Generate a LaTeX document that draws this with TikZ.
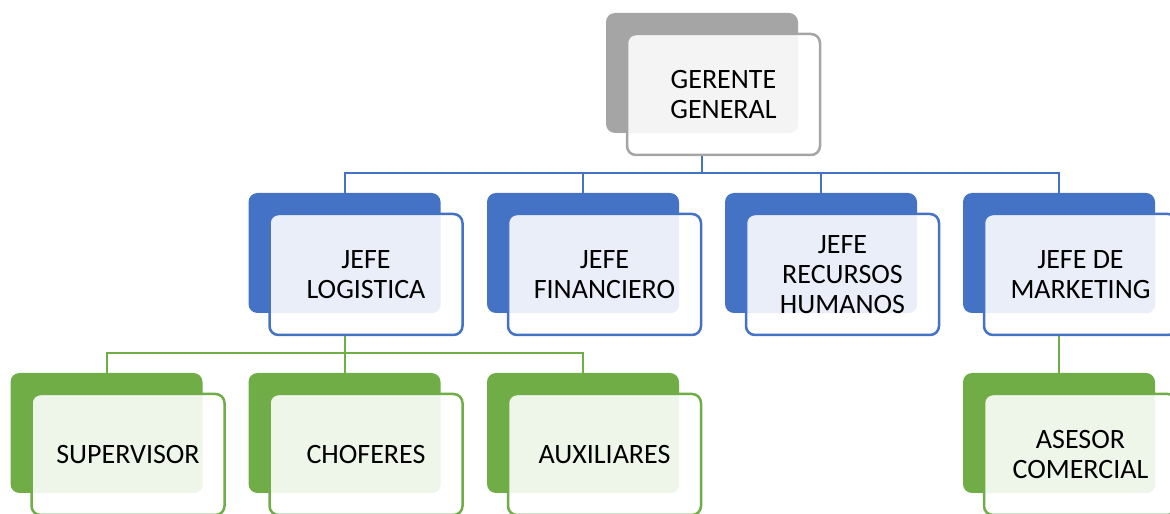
\documentclass[tikz,border=0pt]{standalone}
\usepackage{fontspec}
\setmainfont{Carlito}
\definecolor{gris}{HTML}{A5A5A5}
\definecolor{azul}{HTML}{4472C4}
\definecolor{verde}{HTML}{70AD47}
\begin{document}
\begin{tikzpicture}[x=1pt,y=1pt,
  fondo/.style={rectangle, rounded corners=9pt, minimum width=192pt, minimum height=120pt, inner sep=0pt},
  frente/.style 2 args={rectangle, rounded corners=9pt, minimum width=193pt, minimum height=121pt, inner sep=0pt,
    fill=white, draw=#1, line width=2.5pt, align=center, font=\fontsize{28}{30}\selectfont,
    path picture={\fill[#1!12, rounded corners=9pt] (#2.south west) rectangle (#2.north east);}},
  linea/.style={line width=2pt}]
  \useasboundingbox (0,0) rectangle (1170,514);
  % fondos
  \node[fondo, fill=gris] (gg) at (702,441) {};
  \node[fondo, fill=azul] (jl) at (344.5,261) {};
  \node[fondo, fill=azul] (jf) at (583,261) {};
  \node[fondo, fill=azul] (jr) at (821,261) {};
  \node[fondo, fill=azul] (jm) at (1059,261) {};
  \node[fondo, fill=verde] (sup) at (106.5,81) {};
  \node[fondo, fill=verde] (cho) at (344.5,81) {};
  \node[fondo, fill=verde] (aux) at (583,81) {};
  \node[fondo, fill=verde] (ase) at (1059,81) {};
  % lineas
  \coordinate (b1) at ([yshift=-40pt]gg.south);
  \coordinate (b2) at ([yshift=-40pt]jl.south);
  \draw[linea, azul] (gg.south) -- (b1);
  \draw[linea, azul] (jl.north) |- (b1) -| (jm.north);
  \draw[linea, azul] (jf.north) -- (jf.north |- b1);
  \draw[linea, azul] (jr.north) -- (jr.north |- b1);
  \draw[linea, verde] (jl.south) -- (b2);
  \draw[linea, verde] (sup.north) |- (b2) -| (aux.north);
  \draw[linea, verde] (cho.north) -- (cho.north |- b2);
  \draw[linea, verde] (jm.south) -- (ase.north);
  % frentes
  \node[frente={gris}{gg}] (ggt) at ([shift={(21.5pt,-21.5pt)}]gg) {GERENTE\\GENERAL};
  \node[frente={azul}{jl}] (jlt) at ([shift={(21.5pt,-21.5pt)}]jl) {JEFE\\LOGISTICA};
  \node[frente={azul}{jf}] (jft) at ([shift={(21.5pt,-21.5pt)}]jf) {JEFE\\FINANCIERO};
  \node[frente={azul}{jr}] (jrt) at ([shift={(21.5pt,-21.5pt)}]jr) {JEFE\\RECURSOS\\HUMANOS};
  \node[frente={azul}{jm}] (jmt) at ([shift={(21.5pt,-21.5pt)}]jm) {JEFE DE\\MARKETING};
  \node[frente={verde}{sup}] (supt) at ([shift={(21.5pt,-21.5pt)}]sup) {SUPERVISOR};
  \node[frente={verde}{cho}] (chot) at ([shift={(21.5pt,-21.5pt)}]cho) {CHOFERES};
  \node[frente={verde}{aux}] (auxt) at ([shift={(21.5pt,-21.5pt)}]aux) {AUXILIARES};
  \node[frente={verde}{ase}] (aset) at ([shift={(21.5pt,-21.5pt)}]ase) {ASESOR\\COMERCIAL};
\end{tikzpicture}
\end{document}
